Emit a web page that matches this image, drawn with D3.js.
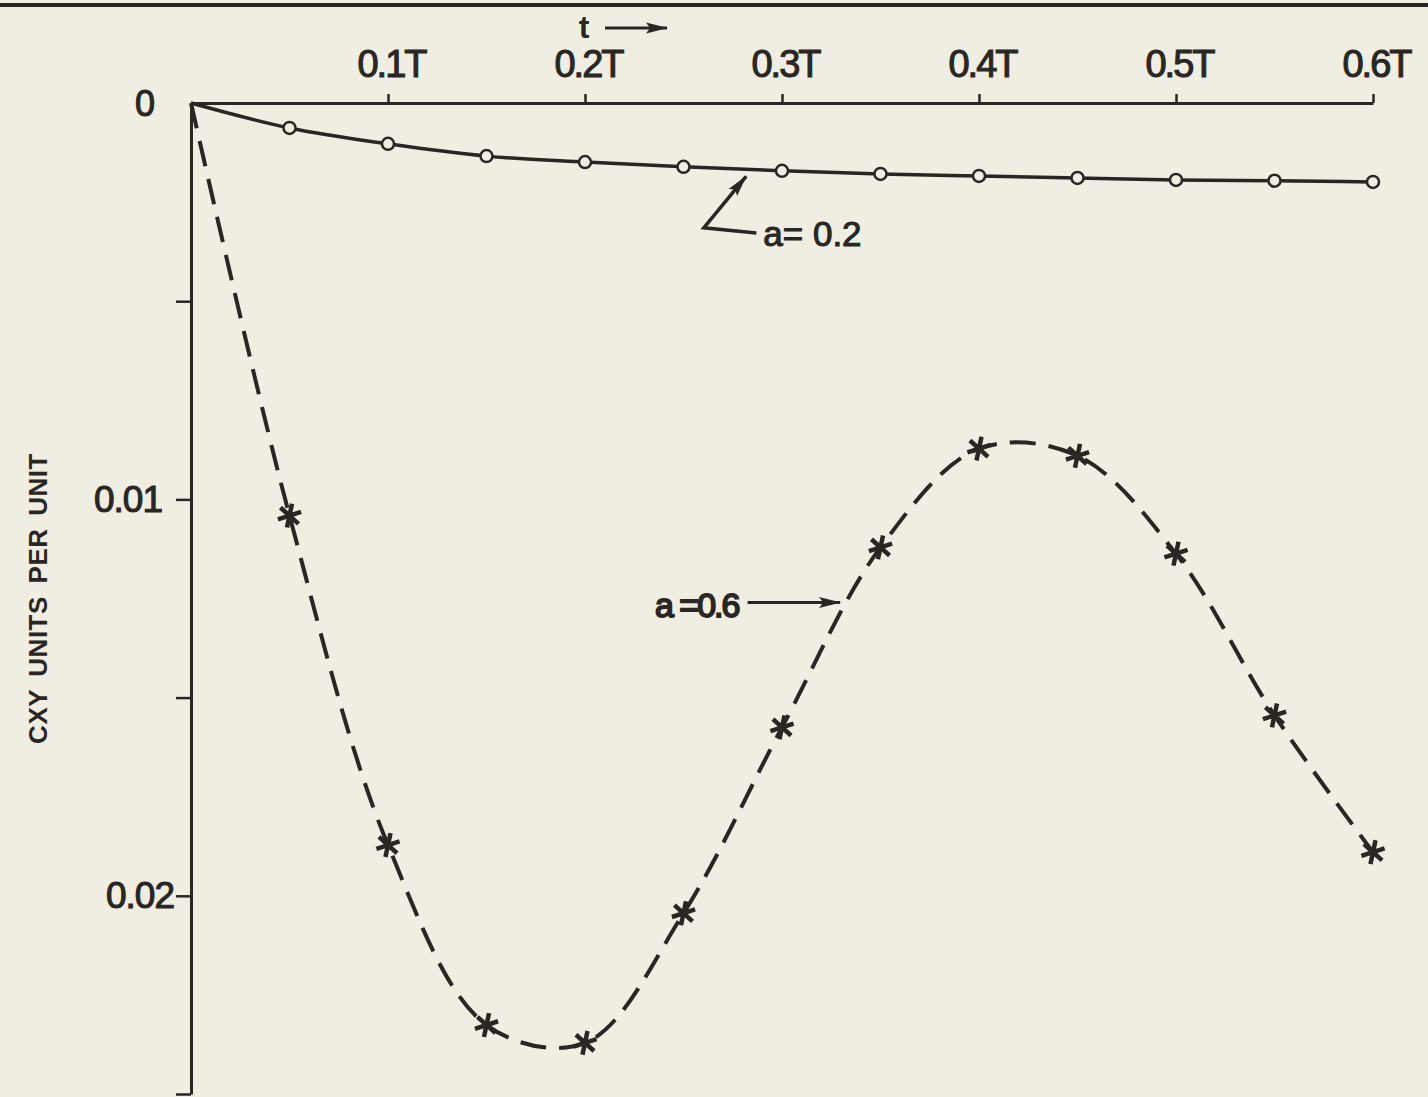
<!DOCTYPE html>
<html>
<head>
<meta charset="utf-8">
<script src="https://cdn.jsdelivr.net/npm/d3@7"></script>
<style>
  html, body { margin: 0; padding: 0; background: #f0eee2; }
  svg { display: block; }
</style>
</head>
<body>
<div id="chart"></div>
<script>
// sample times (fraction of T) and CXY values
const tValues = [0.05, 0.1, 0.15, 0.2, 0.25, 0.3, 0.35, 0.4, 0.45, 0.5, 0.55, 0.6];
const cxyA02 = [0.00063, 0.00103, 0.00134, 0.00149, 0.00161, 0.00171, 0.00179, 0.00184, 0.00189, 0.00194, 0.00196, 0.00199];
const cxyA06 = [0.01041, 0.01872, 0.02326, 0.02371, 0.02044, 0.01575, 0.01121, 0.00872, 0.0089, 0.01137, 0.01545, 0.0189];
const xTicks = [0.1, 0.2, 0.3, 0.4, 0.5, 0.6];
const xTickLabels = ["0.1T", "0.2T", "0.3T", "0.4T", "0.5T", "0.6T"];
const yTicks = [0.005, 0.01, 0.015, 0.02, 0.025];
const yTickLabels = ["", "0.01", "", "0.02", ""];

const width = 1428, height = 1097;
const ink = "#2a2623", paper = "#f0eee2";
const font = "'Liberation Sans', Arial, sans-serif";
const margin = { top: 103, left: 191, right: 55, bottom: 3 };

const x = d3.scaleLinear().domain([0, 0.6]).range([margin.left, width - margin.right]);
const y = d3.scaleLinear().domain([0, 0.025]).range([margin.top, height - margin.bottom]);

const svg = d3.select("#chart").append("svg")
  .attr("width", width)
  .attr("height", height)
  .style("background", paper);

const defs = svg.append("defs");
defs.append("marker")
  .attr("id", "head")
  .attr("viewBox", "0 -6 22 12")
  .attr("refX", 21).attr("refY", 0)
  .attr("markerWidth", 22).attr("markerHeight", 12)
  .attr("markerUnits", "userSpaceOnUse")
  .attr("orient", "auto")
  .append("path")
  .attr("d", "M0,-5.5L22,0L0,5.5L4,0Z")
  .attr("fill", ink);

// heavier lettering, like the inked labels
const letter = sel => sel
  .attr("fill", ink)
  .attr("stroke", ink)
  .attr("stroke-width", 1.1)
  .style("font-family", font);

// top border rule
svg.append("line")
  .attr("x1", 0).attr("x2", width)
  .attr("y1", 5).attr("y2", 5)
  .attr("stroke", ink).attr("stroke-width", 4);

/** AXES */
const xAxis = d3.axisTop(x)
  .tickValues(xTicks)
  .tickFormat((d, i) => xTickLabels[i])
  .tickSize(9).tickSizeOuter(0).tickPadding(17);

const gx = svg.append("g")
  .attr("transform", `translate(0,${y(0)})`)
  .call(xAxis);
gx.select(".domain").attr("stroke", ink).attr("stroke-width", 3);
gx.selectAll(".tick line").attr("stroke", ink).attr("stroke-width", 2.5);
gx.selectAll(".tick text")
  .call(letter)
  .attr("dx", 3)
  .style("font-size", "38px")
  .style("letter-spacing", "-2px");

const yAxis = d3.axisLeft(y)
  .tickValues(yTicks)
  .tickFormat((d, i) => yTickLabels[i])
  .tickSize(15).tickSizeOuter(0).tickPadding(2);

const gy = svg.append("g")
  .attr("transform", `translate(${x(0)},0)`)
  .call(yAxis);
gy.select(".domain").attr("stroke", ink).attr("stroke-width", 3);
gy.selectAll(".tick line").attr("stroke", ink).attr("stroke-width", 2.5);
gy.selectAll(".tick text")
  .call(letter)
  .attr("dx", d => d === 0.01 ? -12 : 0)
  .style("font-size", "37px")
  .style("letter-spacing", "-1px");

// origin label
svg.append("text")
  .attr("x", x(0) - 36).attr("y", y(0) + 13)
  .attr("text-anchor", "end")
  .call(letter)
  .style("font-size", "36px")
  .text("0");

// y title
svg.append("text")
  .attr("transform", `translate(47,${y(0.0125)}) rotate(-90)`)
  .attr("text-anchor", "middle")
  .attr("fill", ink)
  .style("font-family", font)
  .style("font-weight", "bold")
  .style("font-size", "26px")
  .style("letter-spacing", "0.5px")
  .style("word-spacing", "5px")
  .text("CXY UNITS PER UNIT");

// t -->
svg.append("text")
  .attr("x", x(0.2) - 1).attr("y", 38)
  .attr("text-anchor", "middle")
  .attr("fill", ink)
  .style("font-family", font)
  .style("font-weight", "bold")
  .style("font-size", "32px")
  .text("t");
svg.append("line")
  .attr("x1", x(0.2) + 20).attr("x2", x(0.2) + 82)
  .attr("y1", 28).attr("y2", 28)
  .attr("stroke", ink).attr("stroke-width", 3)
  .attr("marker-end", "url(#head)");

/** CURVES */
const lowData = [{ t: 0, v: 0 }].concat(tValues.map((t, i) => ({ t, v: cxyA02[i] })));
const highData = [{ t: 0, v: 0 }].concat(tValues.map((t, i) => ({ t, v: cxyA06[i] })));

const lineLow = d3.line().x(d => x(d.t)).y(d => y(d.v)).curve(d3.curveMonotoneX);
const lineHigh = d3.line().x(d => x(d.t)).y(d => y(d.v)).curve(d3.curveCatmullRom.alpha(0.5));

svg.append("path")
  .datum(lowData)
  .attr("d", lineLow)
  .attr("fill", "none")
  .attr("stroke", ink)
  .attr("stroke-width", 3.5);

svg.append("path")
  .datum(highData)
  .attr("d", lineHigh)
  .attr("fill", "none")
  .attr("stroke", ink)
  .attr("stroke-width", 4)
  .attr("stroke-dasharray", "26,13");

// circle markers, a = 0.2
svg.selectAll("circle.low")
  .data(lowData.slice(1))
  .join("circle")
  .attr("class", "low")
  .attr("cx", d => x(d.t))
  .attr("cy", d => y(d.v))
  .attr("r", 6)
  .attr("fill", paper)
  .attr("stroke", ink)
  .attr("stroke-width", 2.5);

// asterisk markers, a = 0.6
const star = d3.symbol().type(d3.symbolAsterisk).size(420);
svg.selectAll("path.star")
  .data(highData.slice(1))
  .join("path")
  .attr("class", "star")
  .attr("transform", d => `translate(${x(d.t)},${y(d.v)}) rotate(12)`)
  .attr("d", star)
  .attr("fill", "none")
  .attr("stroke", ink)
  .attr("stroke-width", 4.5);

/** ANNOTATIONS */
// a = 0.2 : bent arrow pointing up to the solid curve
svg.append("path")
  .attr("d", d3.line()([[x(0.287), y(0.00328)], [x(0.2603), y(0.00315)], [x(0.2818), y(0.00185)]]))
  .attr("fill", "none")
  .attr("stroke", ink)
  .attr("stroke-width", 3.5)
  .attr("marker-end", "url(#head)");
svg.append("text")
  .attr("x", x(0.2905)).attr("y", y(0.0036))
  .call(letter)
  .style("font-size", "35px")
  .style("letter-spacing", "0px")
  .text("a= 0.2");

// a = 0.6 : straight arrow to the dashed curve
svg.append("line")
  .attr("x1", x(0.2825)).attr("x2", x(0.3295))
  .attr("y1", y(0.0126)).attr("y2", y(0.0126))
  .attr("stroke", ink)
  .attr("stroke-width", 3)
  .attr("marker-end", "url(#head)");
svg.append("text")
  .attr("x", x(0.2355)).attr("y", y(0.01297))
  .call(letter)
  .attr("stroke-width", 1.8)
  .style("font-size", "34px")
  .style("letter-spacing", "-2px")
  .text("a =0.6");
</script>
</body>
</html>
